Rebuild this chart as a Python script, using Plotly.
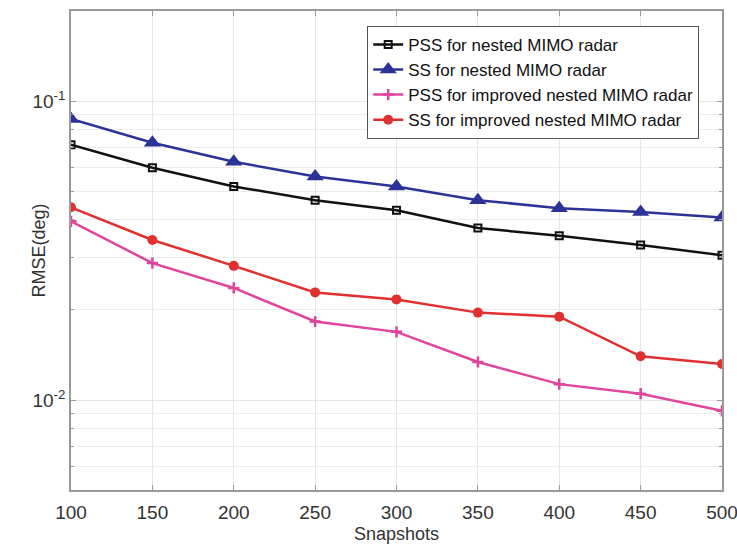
import plotly.graph_objects as go

snapshots = [100, 150, 200, 250, 300, 350, 400, 450, 500]
pss_nested = [0.0714, 0.0598, 0.0518, 0.0466, 0.0431, 0.0376, 0.0354, 0.0330, 0.0305]
ss_nested = [0.0871, 0.0725, 0.0626, 0.0559, 0.0518, 0.0466, 0.0438, 0.0425, 0.0408]
pss_improved = [0.0396, 0.0287, 0.0237, 0.0183, 0.0169, 0.0134, 0.0113, 0.0105, 0.0092]
ss_improved = [0.0441, 0.0343, 0.0281, 0.0229, 0.0217, 0.0196, 0.0190, 0.0140, 0.0132]

names = ["PSS for nested MIMO radar", "SS for nested MIMO radar",
         "PSS for improved nested MIMO radar", "SS for improved nested MIMO radar"]
y_tickvals = [0.01, 0.1]
y_ticktext = ["10<sup>-2</sup>", "10<sup>-1</sup>"]
y_minor = [0.005, 0.006, 0.007, 0.008, 0.009, 0.02, 0.03, 0.04, 0.05, 0.06,
           0.07, 0.08, 0.09, 0.2]

FONT = "Liberation Sans, Arial"

fig = go.Figure()
fig.add_trace(go.Scatter(x=snapshots, y=pss_nested, name=names[0], mode="lines+markers",
                         line=dict(color="#111111", width=2.5),
                         marker=dict(symbol="square-open", size=7, color="#111111",
                                     line=dict(width=2, color="#111111"))))
fig.add_trace(go.Scatter(x=snapshots, y=ss_nested, name=names[1], mode="lines+markers",
                         line=dict(color="#2b3396", width=2.5),
                         marker=dict(symbol="triangle-up", size=15, color="#2b3396")))
fig.add_trace(go.Scatter(x=snapshots, y=pss_improved, name=names[2], mode="lines+markers",
                         line=dict(color="#e0449c", width=2.5),
                         marker=dict(symbol="cross-thin", size=8,
                                     line=dict(width=2.5, color="#e0449c"))))
fig.add_trace(go.Scatter(x=snapshots, y=ss_improved, name=names[3], mode="lines+markers",
                         line=dict(color="#e03030", width=2.5),
                         marker=dict(symbol="circle", size=10, color="#e03030")))

axis_common = dict(showline=True, linecolor="#9a9a9a", linewidth=1.5, mirror="ticks",
                   ticks="inside", ticklen=5, tickcolor="#9a9a9a",
                   gridcolor="#e6e6e6", gridwidth=1, zeroline=False, automargin=False,
                   tickfont=dict(family=FONT, size=19, color="#333333"))

fig.update_xaxes(range=[100, 500], tickvals=snapshots, ticklabeloverflow="allow",
                 ticklabelstandoff=4,
                 title=dict(text="Snapshots", font=dict(family=FONT, size=18, color="#333333"),
                            standoff=10),
                 **axis_common)
fig.update_yaxes(type="log", range=[-2.30103, -0.69897], tickvals=y_tickvals,
                 ticktext=y_ticktext,
                 minor=dict(tickvals=y_minor, showgrid=True, gridcolor="#ececec",
                            ticks="inside", ticklen=3, tickcolor="#9a9a9a"),
                 **axis_common)

fig.add_annotation(text="RMSE(deg)", textangle=-90, xref="paper", yref="paper",
                   x=-(71 - 38) / 651, y=0.5, xanchor="center", yanchor="middle",
                   showarrow=False, font=dict(family=FONT, size=18, color="#333333"))

fig.update_layout(
    width=737, height=544,
    margin=dict(l=71, r=15, t=11, b=54, autoexpand=False),
    paper_bgcolor="white", plot_bgcolor="white",
    font=dict(family=FONT, color="#222222"),
    legend=dict(x=0.455, y=0.969, xanchor="left", yanchor="top",
                bgcolor="white", bordercolor="#555555", borderwidth=1,
                font=dict(family=FONT, size=17, color="#111111"),
                itemwidth=30, tracegroupgap=0),
    showlegend=True,
)

fig.write_html("out.html")
